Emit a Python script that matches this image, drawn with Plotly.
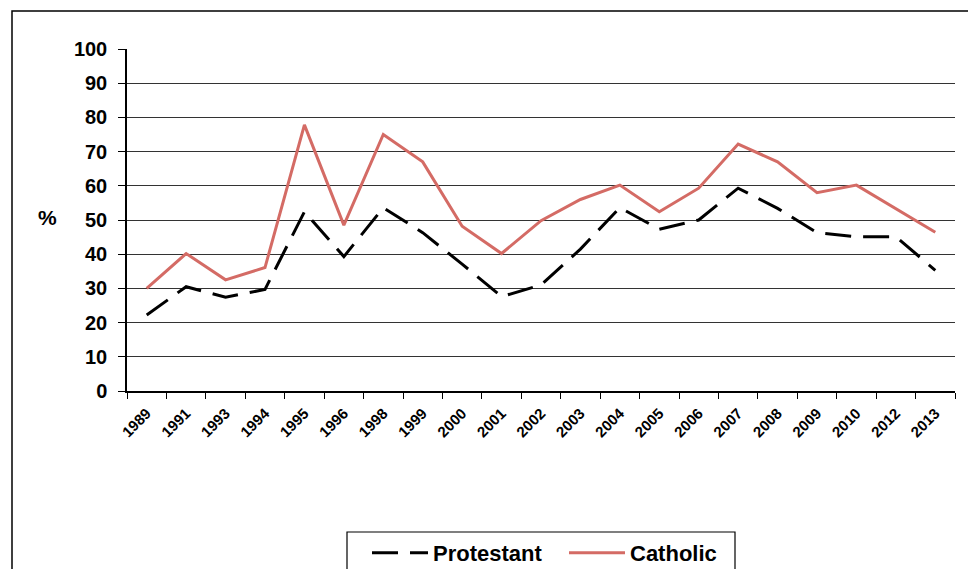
import plotly.graph_objects as go

years = ["1989", "1991", "1993", "1994", "1995", "1996", "1998", "1999", "2000", "2001",
         "2002", "2003", "2004", "2005", "2006", "2007", "2008", "2009", "2010", "2012", "2013"]
protestant = [22.2, 30.5, 27.4, 29.7, 52.4, 39.3, 53.6, 46.3, 37.1, 27.6,
              31.0, 41.5, 53.6, 47.3, 50.0, 59.3, 53.4, 46.3, 45.1, 45.1, 35.3]
catholic = [30.0, 40.2, 32.5, 36.1, 77.8, 48.5, 75.0, 67.0, 48.2, 40.2,
            49.8, 56.0, 60.2, 52.4, 59.3, 72.2, 67.0, 58.0, 60.2, 53.4, 46.4]
y_ticks = list(range(0, 101, 10))

FONT = "Arial, Liberation Sans, sans-serif"

fig = go.Figure()
fig.add_trace(go.Scatter(
    x=years, y=protestant, name="Protestant", mode="lines",
    line=dict(color="black", width=3, dash="26px,12px"),
))
fig.add_trace(go.Scatter(
    x=years, y=catholic, name="Catholic", mode="lines",
    line=dict(color="#D46B65", width=3),
))

# page body adds an 8px offset; work in window pixels and subtract it
OFF = 8
L, R, T, B = 127 - OFF, 955 - OFF, 49 - OFF, 391 - OFF
W, H = 976 - OFF, 569 - OFF
pw, ph = R - L, B - T

def px_x(p):
    return (p - OFF - L) / pw

def px_y(p):
    return (B - (p - OFF)) / ph

# outer chart border
fig.add_shape(type="rect", xref="paper", yref="paper",
              x0=px_x(12), x1=px_x(970), y0=px_y(590), y1=px_y(11),
              line=dict(color="black", width=1.5), layer="below")
# legend box border
fig.add_shape(type="rect", xref="paper", yref="paper",
              x0=px_x(347), x1=px_x(735), y0=px_y(590), y1=px_y(532),
              line=dict(color="black", width=1.2), layer="below")

fig.add_annotation(text="%", xref="paper", yref="paper",
                   x=px_x(47), y=px_y(217), xanchor="center", yanchor="middle",
                   showarrow=False,
                   font=dict(family=FONT, size=21, color="black", weight="bold"))

fig.update_layout(
    width=W, height=H,
    margin=dict(l=L, r=W - R, t=T, b=H - B, autoexpand=False),
    paper_bgcolor="white", plot_bgcolor="white",
    showlegend=True,
    legend=dict(orientation="h", x=px_x(367), y=px_y(532), xanchor="left", yanchor="top",
                borderwidth=0, bgcolor="rgba(0,0,0,0)",
                font=dict(family=FONT, size=22, color="black", weight="bold"),
                itemwidth=56, entrywidth=126, entrywidthmode="pixels",
                tracegroupgap=0),
    xaxis=dict(type="category", range=[-0.5, 20.5], tickson="boundaries",
               automargin=False,
               showgrid=False, showline=True, linecolor="black", linewidth=1.5,
               ticks="outside", ticklen=6, tickcolor="black", tickwidth=1.3,
               tickangle=-45, ticklabelstandoff=6,
               tickfont=dict(family=FONT, size=15, color="black", weight="bold")),
    yaxis=dict(range=[0, 100], tickvals=y_ticks, showgrid=True,
               automargin=False,
               gridcolor="#333333", gridwidth=1.3,
               showline=True, linecolor="black", linewidth=1.5,
               ticks="outside", ticklen=7, tickcolor="black", tickwidth=1.3,
               zeroline=False, ticklabelstandoff=7,
               tickfont=dict(family=FONT, size=20, color="black", weight="bold")),
)

fig.write_html("out.html")
